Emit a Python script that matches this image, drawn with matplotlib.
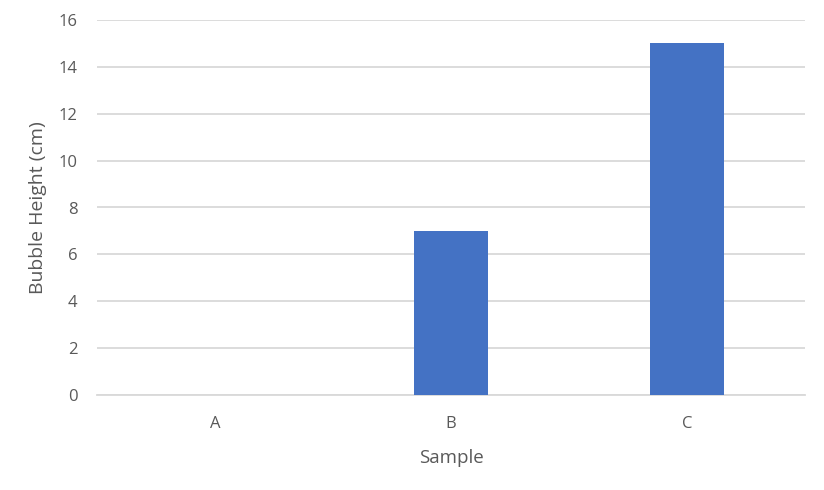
import matplotlib
matplotlib.use("Agg")
import matplotlib.pyplot as plt

categories = ["A", "B", "C"]
values = [0, 7, 15]
yticks = [0, 2, 4, 6, 8, 10, 12, 14, 16]

plt.rcParams['font.family'] = ['Open Sans', 'DejaVu Sans']
text_color = "#595959"

fig = plt.figure(figsize=(8.24, 4.90), dpi=100)
ax = fig.add_axes([97/824, 1-395/490, (805-97)/824, (395-20)/490])

x = range(len(categories))
ax.bar(x, values, width=0.315, color="#4472C4", zorder=3)
ax.set_xlim(-0.5, 2.5)
ax.set_ylim(0, 16)
ax.set_yticks(yticks)
ax.set_xticks(list(x))
ax.set_xticklabels(categories)
ax.grid(axis="y", color="#d9d9d9", linewidth=1.3, zorder=0)
for s in ["top", "right", "left"]:
    ax.spines[s].set_visible(False)
ax.spines["bottom"].set_color("#d9d9d9")
ax.spines["bottom"].set_linewidth(1.3)
ax.tick_params(axis="both", length=0, labelsize=12, colors=text_color)
ax.tick_params(axis="y", pad=14)
ax.tick_params(axis="x", pad=15)
ax.set_xlabel("Sample", fontsize=13.5, color=text_color, labelpad=12)
ax.set_ylabel("Bubble Height (cm)", fontsize=14, color=text_color, labelpad=8)

fig.savefig("out.png", dpi=100)
